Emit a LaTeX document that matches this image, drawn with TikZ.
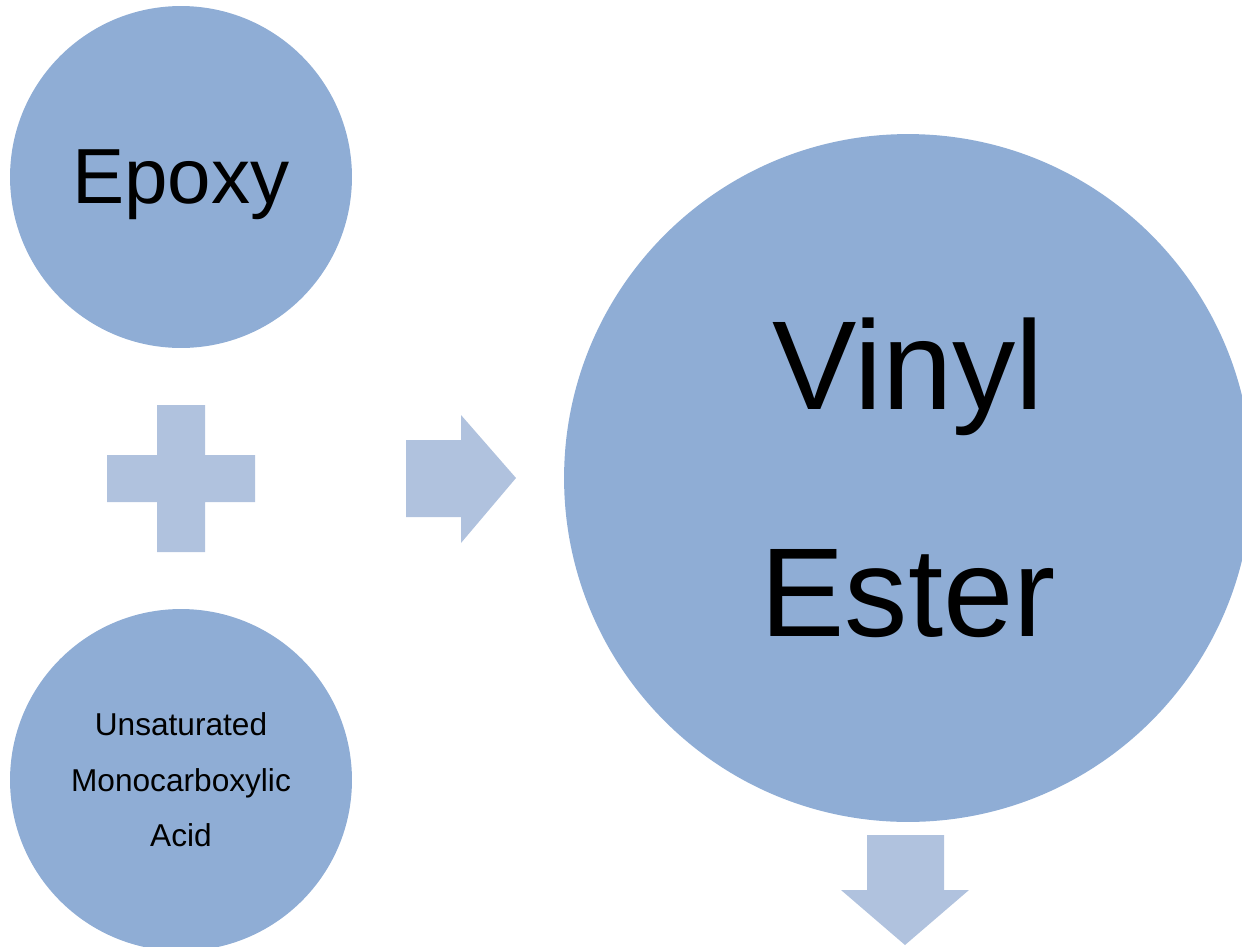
\documentclass[tikz,border=0pt]{standalone}
\usepackage{fontspec}
\setmainfont{Liberation Sans}
\definecolor{bubbleblue}{RGB}{143,173,213}
\definecolor{arrowblue}{RGB}{176,194,222}
\begin{document}
\begin{tikzpicture}[x=0.02cm, y=-0.02cm, bubble/.style={circle, fill=bubbleblue, inner sep=0pt, align=center}, sign/.style={fill=arrowblue}]
    \clip (0,0) rectangle (1242,947);
    \node[bubble, minimum size=6.84cm, text depth=0pt, font=\fontsize{44.5}{50}\selectfont] (E) at (181,177) {Epoxy};
    \node[bubble, minimum size=6.84cm, font=\fontsize{18}{31.6}\selectfont] (A) at (181,780) {Unsaturated\\Monocarboxylic\\Acid};
    \node[bubble, minimum size=13.76cm, font=\fontsize{72}{129}\selectfont] (V) at (908,478) {Vinyl\\Ester};
    
    % plus sign
    \fill[sign] (157,405) -- (205,405) -- (205,455) -- (255,455) -- (255,502) -- (205,502)
        -- (205,552) -- (157,552) -- (157,502) -- (107,502) -- (107,455) -- (157,455) -- cycle;
    % arrows
    \fill[sign] (406,440) -- (461,440) -- (461,415) -- (516,478) -- (461,543) -- (461,517) -- (406,517) -- cycle;
    \fill[sign] (867,835) -- (944,835) -- (944,890) -- (969,890) -- (905,945) -- (841,890) -- (867,890) -- cycle;
\end{tikzpicture}
\end{document}
